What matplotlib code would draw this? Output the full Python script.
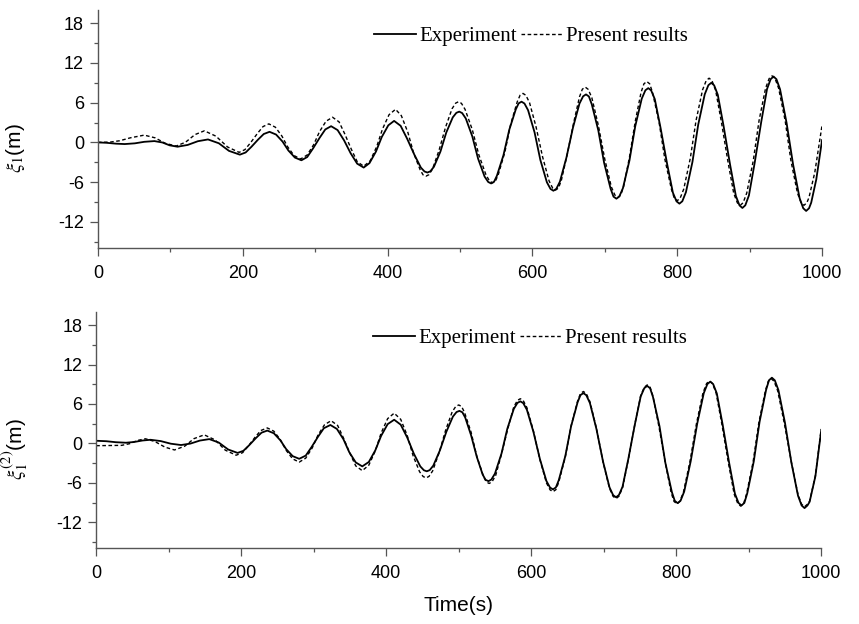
import matplotlib
matplotlib.use('Agg')
import matplotlib.pyplot as plt
from matplotlib.ticker import MultipleLocator

# values (time in s, elevation in m)

# upper panel, xi_1
t_exp1 = [0, 12, 25, 37, 51, 64, 78, 89, 99, 110, 124, 138, 152, 167, 181, 196,
          204, 212, 221, 229, 237, 246, 255, 263, 272, 281, 289, 297, 306, 314, 322,
          331, 340, 349, 358, 367, 375, 384, 392, 401, 409, 418, 427, 437,
          446, 451, 455, 459, 464, 473, 481, 490, 495, 499, 503, 508, 517, 525, 534,
          539, 543, 547, 551, 560, 568, 577, 581, 585, 589, 594, 603, 611, 620, 625,
          629, 633, 638, 647, 656, 665, 670, 674, 678, 682, 691, 699, 708, 712, 716,
          720, 725, 734, 742, 751, 756, 760, 764, 769, 777, 786, 794, 799, 803, 807,
          812, 821, 829, 838, 843, 847, 851, 856, 864, 873, 881, 886, 890, 894, 899,
          907, 916, 924, 929, 933, 937, 942, 951, 960, 969, 974, 978, 982, 985, 992, 1000]
v_exp1 = [0.0, -0.06, -0.19, -0.25, -0.14, 0.09, 0.2, -0.01, -0.44, -0.65, -0.38, 0.18, 0.45, -0.13, -1.28, -1.85,
          -1.52, -0.66, 0.41, 1.27, 1.6, 1.19, 0.12, -1.22, -2.29, -2.7, -2.21, -0.92, 0.67, 1.96, 2.45,
          1.86, 0.29, -1.64, -3.21, -3.8, -3.13, -1.37, 0.82, 2.58, 3.25, 2.51, 0.56, -1.86,
          -3.81, -4.39, -4.55, -4.37, -3.68, -1.38, 1.48, 3.78, 4.47, 4.65, 4.43, 3.62, 0.91, -2.46, -5.17,
          -5.98, -6.2, -5.95, -5.03, -1.94, 1.89, 4.98, 5.9, 6.15, 5.88, 4.87, 1.51, -2.66, -6.02, -7.03,
          -7.3, -7.01, -5.92, -2.28, 2.23, 5.87, 6.96, 7.25, 6.94, 5.75, 1.82, -3.07, -7.0, -8.19, -8.5,
          -8.17, -6.91, -2.74, 2.44, 6.61, 7.87, 8.2, 7.85, 6.54, 2.18, -3.23, -7.59, -8.9, -9.25, -8.89,
          -7.52, -2.95, 2.7, 7.27, 8.64, 9.0, 8.62, 7.2, 2.48, -3.38, -8.1, -9.52, -9.9, -9.5, -8.01,
          -3.05, 3.1, 8.06, 9.55, 9.95, 9.54, 8.02, 2.95, -3.35, -8.42, -9.94, -10.35, -9.95, -9.1, -5.6, 0.35]

t_num1 = [0, 17, 30, 45, 64, 79, 93, 108, 121, 134, 147, 163, 179, 195,
          203, 211, 220, 228, 236, 245, 254, 262, 271, 280, 289, 298, 306, 315, 324,
          333, 341, 350, 358, 367, 376, 385, 393, 402, 411, 419, 428, 436,
          445, 449, 453, 457, 462, 471, 480, 489, 494, 498, 502, 507, 517, 526, 536,
          541, 545, 549, 553, 562, 570, 579, 583, 587, 591, 596, 605, 614, 623, 628,
          632, 636, 640, 648, 657, 665, 669, 673, 677, 682, 691, 700, 709, 714, 718,
          722, 726, 734, 742, 750, 754, 758, 762, 766, 775, 783, 792, 796, 800, 804,
          809, 818, 826, 835, 840, 844, 848, 853, 861, 870, 878, 883, 887, 891, 896,
          905, 913, 922, 927, 931, 935, 940, 949, 957, 966, 971, 975, 979, 982, 990, 1000]
v_num1 = [0.0, 0.05, 0.25, 0.7, 1.1, 0.69, -0.14, -0.55, 0.03, 1.18, 1.75, 0.94, -0.69, -1.5,
          -1.09, -0.02, 1.32, 2.39, 2.8, 2.3, 0.97, -0.67, -2.0, -2.5, -1.9, -0.33, 1.63, 3.2, 3.8,
          3.1, 1.25, -1.05, -2.9, -3.6, -2.78, -0.63, 2.03, 4.18, 5.0, 4.04, 1.52, -1.62,
          -4.14, -4.9, -5.1, -4.88, -4.03, -1.22, 2.27, 5.08, 5.93, 6.15, 5.9, 4.99, 1.92, -1.87, -4.94,
          -5.86, -6.1, -5.83, -4.82, -1.44, 2.74, 6.12, 7.13, 7.4, 7.11, 6.01, 2.36, -2.16, -5.81, -6.91,
          -7.2, -6.89, -5.72, -1.84, 2.99, 6.87, 8.04, 8.35, 8.02, 6.77, 2.61, -2.56, -6.72, -7.97, -8.3,
          -7.95, -6.64, -2.26, 3.16, 7.54, 8.85, 9.2, 8.84, 7.49, 2.99, -2.59, -7.09, -8.44, -8.8, -8.43,
          -7.04, -2.42, 3.32, 7.94, 9.33, 9.7, 9.32, 7.88, 3.08, -2.88, -7.68, -9.12, -9.5, -9.11, -7.64,
          -2.76, 3.31, 8.19, 9.66, 10.05, 9.66, 8.19, 3.31, -2.76, -7.64, -9.11, -9.5, -9.11, -8.3, -4.5, 2.6]

# lower panel, xi_1^(2)
t_exp2 = [0, 14, 27, 41, 52, 64, 75, 89, 103, 117, 130, 143, 156, 169, 182, 195,
          203, 211, 220, 228, 236, 245, 254, 262, 271, 280, 289, 297, 306, 314, 323,
          332, 341, 349, 358, 367, 376, 385, 393, 402, 411, 420, 429, 438, 447,
          452, 456, 460, 465, 474, 483, 492, 497, 501, 505, 509, 517, 525, 533, 537,
          541, 545, 550, 559, 567, 576, 581, 585, 589, 594, 603, 612, 621, 626, 630,
          634, 638, 647, 655, 664, 668, 672, 676, 681, 690, 699, 708, 713, 717, 721,
          726, 734, 743, 751, 756, 760, 764, 768, 777, 785, 794, 798, 802, 806, 811,
          820, 829, 838, 843, 847, 851, 856, 864, 873, 881, 886, 890, 894, 898, 907,
          915, 924, 928, 932, 936, 941, 950, 959, 968, 973, 977, 981, 984, 992, 1000]
v_exp2 = [0.4, 0.33, 0.18, 0.1, 0.21, 0.44, 0.55, 0.35, -0.05, -0.25, -0.03, 0.43, 0.65, 0.13, -0.93, -1.45,
          -1.13, -0.28, 0.78, 1.63, 1.95, 1.54, 0.47, -0.87, -1.94, -2.35, -1.86, -0.57, 1.02, 2.31, 2.8,
          2.2, 0.63, -1.33, -2.9, -3.5, -2.83, -1.05, 1.15, 2.93, 3.6, 2.85, 0.89, -1.54, -3.5,
          -4.09, -4.25, -4.07, -3.38, -1.08, 1.78, 4.08, 4.77, 4.95, 4.74, 3.93, 1.26, -2.06, -4.73, -5.54,
          -5.75, -5.51, -4.6, -1.56, 2.21, 5.25, 6.16, 6.4, 6.13, 5.13, 1.78, -2.38, -5.73, -6.73, -7.0,
          -6.71, -5.61, -1.95, 2.6, 6.26, 7.36, 7.65, 7.33, 6.14, 2.18, -2.73, -6.69, -7.88, -8.2, -7.86,
          -6.59, -2.35, 2.9, 7.14, 8.41, 8.75, 8.39, 7.05, 2.59, -2.94, -7.4, -8.74, -9.1, -8.73, -7.34,
          -2.72, 3.02, 7.64, 9.03, 9.4, 9.02, 7.61, 2.9, -2.95, -7.66, -9.07, -9.45, -9.06, -7.6, -2.74,
          3.29, 8.15, 9.61, 10.0, 9.6, 8.11, 3.15, -3.0, -7.96, -9.45, -9.85, -9.45, -8.9, -5.0, 1.95]

t_num2 = [0, 35, 46, 57, 68, 81, 95, 108, 122, 135, 149, 164, 178, 193,
          202, 210, 219, 227, 236, 245, 254, 262, 271, 280, 289, 298, 306, 315, 324,
          333, 341, 350, 358, 367, 376, 385, 393, 402, 411, 420, 429, 437, 446,
          451, 455, 459, 464, 473, 482, 491, 496, 500, 504, 508, 517, 525, 534, 538,
          542, 546, 551, 559, 568, 576, 581, 585, 589, 594, 603, 612, 621, 626, 630,
          634, 638, 647, 655, 664, 668, 672, 676, 681, 690, 699, 708, 713, 717, 721,
          726, 734, 743, 751, 756, 760, 764, 768, 776, 785, 793, 797, 801, 805, 810,
          819, 828, 837, 842, 846, 850, 855, 863, 872, 880, 885, 889, 893, 897, 906,
          914, 923, 927, 931, 935, 940, 949, 959, 968, 973, 977, 981, 984, 992, 1000]
v_num2 = [-0.35, -0.3, -0.05, 0.45, 0.7, 0.28, -0.58, -1.0, -0.43, 0.73, 1.3, 0.53, -1.03, -1.8,
          -1.41, -0.37, 0.92, 1.96, 2.35, 1.86, 0.56, -1.06, -2.36, -2.85, -2.25, -0.68, 1.28, 2.85, 3.45,
          2.73, 0.83, -1.53, -3.43, -4.15, -3.32, -1.13, 1.58, 3.77, 4.6, 3.66, 1.2, -1.85, -4.31,
          -5.05, -5.25, -5.03, -4.2, -1.42, 2.02, 4.8, 5.63, 5.85, 5.61, 4.71, 1.73, -1.98, -4.96, -5.86,
          -6.1, -5.84, -4.87, -1.65, 2.35, 5.57, 6.54, 6.8, 6.52, 5.46, 1.92, -2.47, -6.01, -7.07, -7.35,
          -7.05, -5.9, -2.09, 2.64, 6.45, 7.6, 7.9, 7.57, 6.35, 2.28, -2.78, -6.85, -8.07, -8.4, -8.05,
          -6.76, -2.43, 2.93, 7.26, 8.55, 8.9, 8.54, 7.18, 2.66, -2.96, -7.48, -8.84, -9.2, -8.83, -7.42,
          -2.75, 3.05, 7.72, 9.13, 9.5, 9.12, 7.69, 2.93, -2.98, -7.74, -9.17, -9.55, -9.16, -7.71, -2.86,
          3.16, 8.01, 9.46, 9.85, 9.46, 8.0, 3.12, -2.92, -7.8, -9.26, -9.65, -9.26, -8.8, -4.9, 2.2]

y_ticks = [-12, -6, 0, 6, 12, 18]
x_ticks = [0, 200, 400, 600, 800, 1000]
legend_labels = ['Experiment', 'Present results']
y_labels = [r'$\xi_1$(m)', r'$\xi_1^{(2)}$(m)']


def style_axis(ax, ylabel, label_x):
	ax.set_xlim(0, 1000)
	ax.set_ylim(-16, 20)
	ax.set_xticks(x_ticks)
	ax.set_yticks(y_ticks)
	ax.xaxis.set_minor_locator(MultipleLocator(100))
	ax.yaxis.set_minor_locator(MultipleLocator(3))
	for side in ['top', 'right']:
		ax.spines[side].set_visible(False)
	for side in ['left', 'bottom']:
		ax.spines[side].set_color('#555555')
		ax.spines[side].set_linewidth(1.0)
	ax.tick_params(which='major', direction='out', length=6, width=0.9,
		color='#555555', labelsize=13, pad=4)
	ax.tick_params(axis='x', which='major', pad=6)
	ax.tick_params(which='minor', direction='out', length=3, width=0.9, color='#555555')
	ax.set_ylabel(ylabel, fontsize=15)
	ax.yaxis.set_label_coords(label_x, 0.42)
	ax.legend(loc='center', bbox_to_anchor=(0.598, 0.888), ncol=2, frameon=False,
		handlelength=2.0, handletextpad=0.15, columnspacing=0.2, borderaxespad=0,
		prop={'family': 'Liberation Serif', 'size': 15})


def main():
	plt.rcParams['font.family'] = ['Liberation Sans', 'DejaVu Sans']
	plt.rcParams['mathtext.fontset'] = 'stix'
	plt.rcParams['axes.unicode_minus'] = False
	fig = plt.figure(figsize=(8.59, 6.24), dpi=100)
	ax1 = fig.add_axes([0.114, 0.602, 0.843, 0.382])
	ax2 = fig.add_axes([0.112, 0.121, 0.844, 0.379])

	dash = (0, (2.6, 1.8))
	ax1.plot(t_exp1, v_exp1, color='black', lw=1.3, label=legend_labels[0])
	ax1.plot(t_num1, v_num1, color='black', lw=1.0, linestyle=dash, label=legend_labels[1])
	ax2.plot(t_exp2, v_exp2, color='black', lw=1.3, label=legend_labels[0])
	ax2.plot(t_num2, v_num2, color='black', lw=1.0, linestyle=dash, label=legend_labels[1])

	style_axis(ax1, y_labels[0], -0.098)
	style_axis(ax2, y_labels[1], -0.091)
	ax2.set_xlabel('Time(s)', fontsize=15, labelpad=10)

	fig.savefig('out.png', dpi=100)


if __name__ == "__main__":
	main()
